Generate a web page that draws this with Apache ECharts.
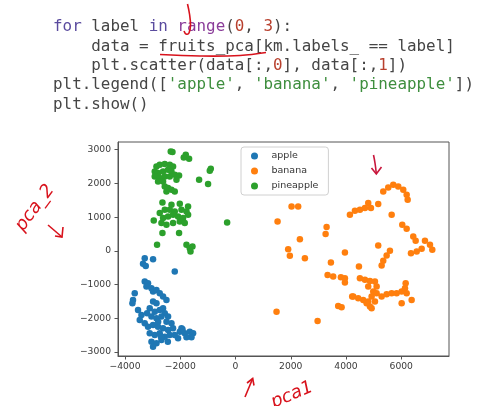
<!DOCTYPE html>
<html><head><meta charset="utf-8">
<script src="https://cdn.jsdelivr.net/npm/echarts@6/dist/echarts.min.js"></script>
<style>html,body{margin:0;padding:0;background:#fff;}#c{width:486px;height:406px;}</style>
</head><body><div id="c"></div>
<script>
var labels = ['apple', 'banana', 'pineapple'];
var colors = ['#1f77b4', '#ff7f0e', '#2ca02c'];
var xTicks = [-4000, -2000, 0, 2000, 4000, 6000];
var yTicks = [-3000, -2000, -1000, 0, 1000, 2000, 3000];

var apple = [
 [-3286,-217],[-3348,-386],[-3250,-446],[-2985,-247],[-2199,-615],[-3286,-912],[-3167,-959],
 [-3224,-1060],[-3043,-1108],[-2985,-1209],[-2862,-1158],[-3648,-1256],[-3710,-1455],[-3732,-1553],
 [-2743,-1256],[-2623,-1357],[-2500,-1455],[-2985,-1506],[-2862,-1553],[-3529,-1752],[-3406,-1901],
 [-3467,-2049],[-3286,-2147],[-3105,-1702],[-2924,-1803],[-2743,-1752],[-2561,-1850],[-2442,-1951],
 [-2623,-1702],[-3043,-1951],[-2862,-1999],[-2681,-1951],[-2500,-2100],[-2319,-2147],[-3167,-2248],
 [-2985,-2198],[-2804,-2248],[-2623,-2296],[-2442,-2346],[-2261,-2296],[-3105,-2444],[-2924,-2495],
 [-2743,-2444],[-2561,-2545],[-2380,-2495],[-3043,-2694],[-2862,-2741],[-2681,-2643],[-2985,-2842],
 [-1956,-2296],[-2018,-2397],[-1837,-2444],[-1656,-2397],[-1536,-2444],[-1594,-2563],[-1775,-2563],
 [-2080,-2593],[-2199,-2495],[-1920,-2325],[-2800,-2100],[-3200,-1850],[-2700,-2550],[-2450,-2700]
];
var banana = [
 [2029,1316],[2268,1316],[1522,870],[4141,1069],[3297,704],[3261,496],[2330,347],[1906,50],
 [1967,-149],[2511,-217],[3960,-50],[3453,-347],[3333,-713],[3536,-763],[3815,-781],[3960,-811],
 [3960,-941],[4224,-1357],[3717,-1634],[3840,-1672],[1485,-1803],[2971,-2079],
 [5348,1761],[5529,1880],[5710,1960],[5891,1910],[6072,1812],[6195,1663],[6232,1515],
 [4322,1188],[4503,1218],[4685,1268],[4804,1417],[4902,1268],[5166,1387],[5652,1069],
 [6036,772],[6195,653],[6434,425],[6521,297],[6858,297],[7040,178],[7123,30],[6739,59],
 [6558,-21],[6351,-68],[5166,157],[5590,0],[5471,-140],[5348,-297],[5290,-437],[4467,-466],
 [4503,-811],[4685,-861],[4866,-891],[5047,-912],[5108,-1060],[4985,-1209],[4927,-1357],
 [4804,-1506],[4623,-1455],[4442,-1405],[4261,-1357],[4866,-1654],[4746,-1553],[5290,-1357],
 [5471,-1286],[5652,-1256],[5833,-1256],[6014,-1209],[6134,-1108],[6159,-959],[6195,-1256],
 [6014,-1553],[6376,-1455],[4927,-1704],[5108,-1256],[4804,-1060],[5047,-1500]
];
var pineapple = [
 [-2344,2949],[-2282,2931],[-1801,2851],[-1681,2732],[-1873,2771],[-895,2435],[-931,2376],
 [-2862,2504],[-2743,2554],[-2561,2575],[-2380,2554],[-2261,2504],[-2924,2355],[-2804,2308],
 [-2623,2355],[-2442,2406],[-2319,2355],[-2199,2257],[-2924,2207],[-2743,2159],[-2561,2207],
 [-2380,2207],[-2804,2058],[-2623,2058],[-2043,2236],[-2138,2109],[-1319,2109],[-993,1981],
 [-2561,1910],[-2442,1862],[-2319,1812],[-2199,1761],[-2500,1761],[-2645,1435],[-2319,1366],
 [-2018,1396],[-1717,1316],[-2743,1120],[-2561,1218],[-2380,1218],[-2199,1167],[-1956,1218],
 [-1775,1167],[-2623,971],[-2442,1019],[-2261,1069],[-2080,1019],[-1898,971],[-1717,1069],
 [-2681,823],[-2500,772],[-2261,823],[-2018,870],[-1837,823],[-2960,900],[-2645,526],
 [-2043,526],[-304,841],[-2840,178],[-1775,178],[-1656,80],[-1558,128],[-1630,-21]
];
var seriesData = [apple, banana, pineapple];

var codeLines = [
 '{k|for}{t| label }{k|in}{t| }{b|range}{t|(}{n|0}{t|, }{n|3}{t|):}',
 '{t|    data = fruits_pca[km.labels_ == label]}',
 '{t|    plt.scatter(data[:,}{n|0}{t|], data[:,}{n|1}{t|])}',
 "{t|plt.legend([}{s|'apple'}{t|, }{s|'banana'}{t|, }{s|'pineapple'}{t|])}",
 '{t|plt.show()}'
];

function fmt(v){ return String(v).replace('-', '\u2212'); }

var chart = echarts.init(document.getElementById('c'), null, {renderer:'canvas'});
var CF = 'DejaVu Sans Mono', CS = 15.9;
var rich = {
  t: {fill:'#454545', fontFamily:CF, fontSize:CS},
  k: {fill:'#5a4b9e', fontFamily:CF, fontSize:CS},
  b: {fill:'#8a3c99', fontFamily:CF, fontSize:CS},
  n: {fill:'#b8402e', fontFamily:CF, fontSize:CS},
  s: {fill:'#3e8e3e', fontFamily:CF, fontSize:CS}
};
var lineY = [26.7, 46.5, 65.8, 85.2, 104.4];
var graphics = codeLines.map(function(l, i){
  return {type:'text', x: 53, y: lineY[i], z: 10,
    style:{text:l, rich:rich, fill:'#454545', fontFamily:CF, fontSize:CS, verticalAlign:'middle'}};
});
var red = '#d8121c';
graphics.push(
 {type:'polyline', z:20, shape:{points:[[187.5,4],[189.5,14],[190.5,25],[189,33],[186,34],[184,31]], smooth:0.4}, style:{stroke:red, lineWidth:1.6, fill:null}},
 {type:'polyline', z:20, shape:{points:[[160,54.5],[200,56],[240,55.5],[266,52.5]], smooth:0.4}, style:{stroke:red, lineWidth:1.6, fill:null}},
 {type:'text', z:20, x:35, y:208, rotation:0.93, style:{text:'pca_2', fill:red, font:'italic 18px DejaVu Sans', align:'center', verticalAlign:'middle'}},
 {type:'polyline', z:20, shape:{points:[[48,225],[62,237]]}, style:{stroke:red, lineWidth:1.6, fill:null}},
 {type:'polyline', z:20, shape:{points:[[63,227],[62,237],[55,236]]}, style:{stroke:red, lineWidth:1.6, fill:null}},
 {type:'polyline', z:20, shape:{points:[[373.5,155],[375,163],[376.3,173.5]], smooth:0.5}, style:{stroke:'#c8163c', lineWidth:1.6, fill:null}},
 {type:'polyline', z:20, shape:{points:[[371.5,168],[376.3,174],[381.5,167]]}, style:{stroke:'#c8163c', lineWidth:1.6, fill:null}},
 {type:'polyline', z:20, shape:{points:[[245,397],[252.7,378.5]]}, style:{stroke:red, lineWidth:1.6, fill:null}},
 {type:'polyline', z:20, shape:{points:[[247,383],[252.7,378.5],[254,385.5]]}, style:{stroke:red, lineWidth:1.6, fill:null}},
 {type:'text', z:20, x:292, y:395, rotation:0.4, style:{text:'pca1', fill:red, font:'italic 18px DejaVu Sans', align:'center', verticalAlign:'middle'}}
);

var axisCol = '#555';
var tickFont = {color:'#3a3a3a', fontFamily:'DejaVu Sans', fontSize:9.2};
chart.setOption({
  animation:false,
  backgroundColor:'#fff',
  graphic: graphics,
  grid:{left:118, top:142, right:37, bottom:50, show:true, borderColor:axisCol, borderWidth:1, backgroundColor:'#fff'},
  xAxis:{type:'value', min:-4254, max:7728,
    splitLine:{show:false},
    axisLine:{show:true, onZero:false, lineStyle:{color:axisCol}},
    axisTick:{show:true, length:3.5, customValues:xTicks, lineStyle:{color:axisCol}},
    axisLabel:Object.assign({margin:6, customValues:xTicks, formatter:fmt}, tickFont)},
  yAxis:{type:'value', min:-3119, max:3228,
    splitLine:{show:false},
    axisLine:{show:true, onZero:false, lineStyle:{color:axisCol}},
    axisTick:{show:true, length:3.5, customValues:yTicks, lineStyle:{color:axisCol}},
    axisLabel:Object.assign({margin:7, customValues:yTicks, formatter:fmt}, tickFont)},
  legend:{orient:'vertical', left:241, top:147, data:labels, icon:'circle',
    itemWidth:24, itemHeight:7, itemGap:5, padding:[4,10,4,10],
    borderColor:'#d0d0d0', borderWidth:1, borderRadius:3, backgroundColor:'rgba(255,255,255,0.85)',
    textStyle:{color:'#333', fontFamily:'DejaVu Sans', fontSize:9.5, lineHeight:10}},
  series: labels.map(function(name, i){
    return {name:name, type:'scatter', data:seriesData[i], symbolSize:6.5,
      itemStyle:{color:colors[i], opacity:1}, emphasis:{disabled:true}};
  })
});
</script></body></html>
